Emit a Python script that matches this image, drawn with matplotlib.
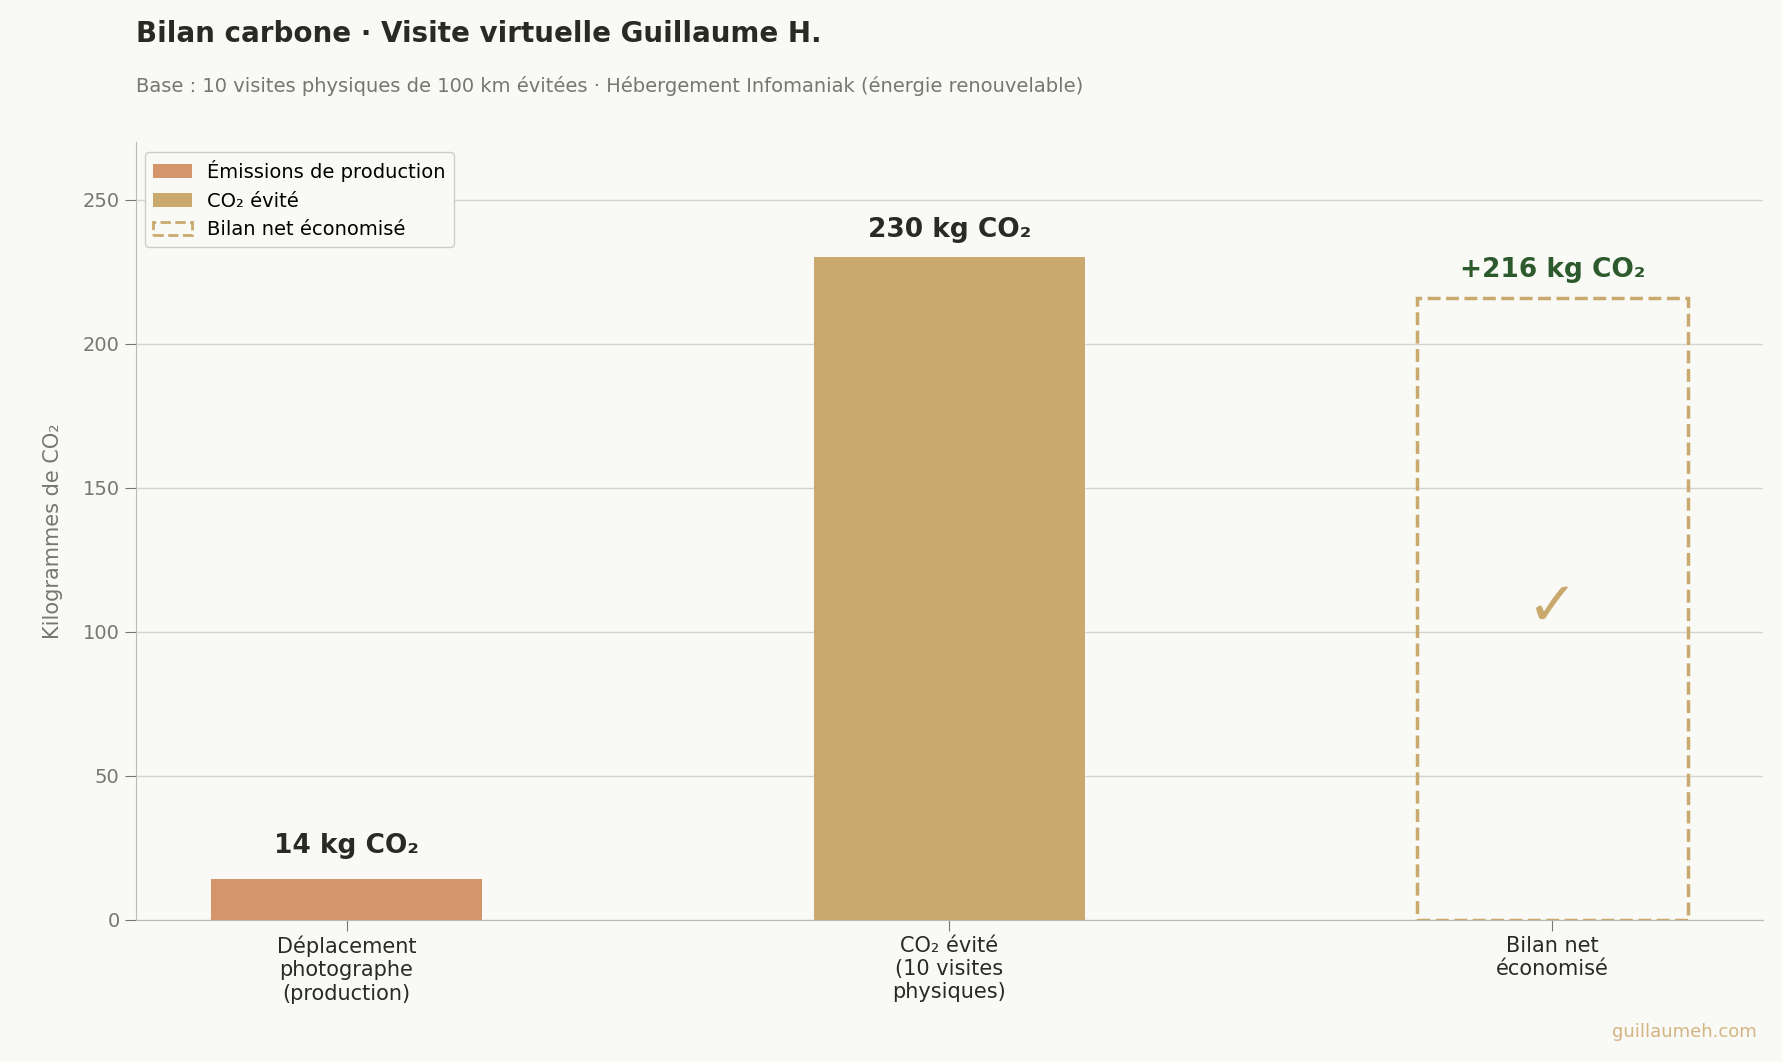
import matplotlib
matplotlib.use("Agg")
import matplotlib.pyplot as plt
from matplotlib.patches import Patch

categories = ["Déplacement\nphotographe\n(production)", "CO₂ évité\n(10 visites\nphysiques)", "Bilan net\néconomisé"]
emissions = 14
avoided = 230
net = 216
bar_labels = ["14 kg CO₂", "230 kg CO₂", "+216 kg CO₂"]

bg = "#f9f9f5"
c_prod = "#d4956b"
c_avoid = "#c9a96e"
c_green = "#2d5a2d"

fig = plt.figure(figsize=(17.83, 10.62), dpi=100, facecolor=bg)
ax = fig.add_axes([0.076, 0.134, 0.913, 0.732], facecolor=bg)

x = [0, 1, 2]
w = 0.45
ax.bar(x[0], emissions, width=w, color=c_prod, zorder=3)
ax.bar(x[1], avoided, width=w, color=c_avoid, zorder=3)
ax.bar(x[2], net, width=w, facecolor="none", edgecolor=c_avoid, linestyle="--", linewidth=2.5, zorder=3)

ax.text(x[0], emissions + 7, bar_labels[0], ha="center", va="bottom", fontsize=19, fontweight="bold", color="#2a2a25")
ax.text(x[1], avoided + 5, bar_labels[1], ha="center", va="bottom", fontsize=19, fontweight="bold", color="#2a2a25")
ax.text(x[2], net + 5, bar_labels[2], ha="center", va="bottom", fontsize=19, fontweight="bold", color=c_green)
ax.text(x[2], net / 2, "✓", ha="center", va="center", fontsize=44, color=c_avoid)

ax.set_xlim(-0.35, 2.35)
ax.set_ylim(0, 270)
ax.set_xticks(x)
ax.set_xticklabels(categories, fontsize=15, color="#2a2a25")
ax.set_yticks([0, 50, 100, 150, 200, 250])
ax.tick_params(axis="y", labelsize=14, colors="#777770", length=8)
ax.tick_params(axis="x", length=8, colors="#777770")
for t in ax.get_xticklabels():
    t.set_color("#2a2a25")
ax.grid(axis="y", color="#d5d5d0", linewidth=1, zorder=0)
for s in ["top", "right"]:
    ax.spines[s].set_visible(False)
for s in ["left", "bottom"]:
    ax.spines[s].set_color("#bbbbb5")
ax.set_ylabel("Kilogrammes de CO₂", fontsize=15, color="#777770", labelpad=14)

handles = [Patch(facecolor=c_prod, label="Émissions de production"),
           Patch(facecolor=c_avoid, label="CO₂ évité"),
           Patch(facecolor="none", edgecolor=c_avoid, linestyle="--", linewidth=2, label="Bilan net économisé")]
leg = ax.legend(handles=handles, loc="upper left", fontsize=14, facecolor=bg, edgecolor="#cccccc", framealpha=1)

fig.text(0.076, 0.955, "Bilan carbone · Visite virtuelle Guillaume H.", fontsize=20, fontweight="bold", color="#2a2a25", va="bottom")
fig.text(0.076, 0.91, "Base : 10 visites physiques de 100 km évitées · Hébergement Infomaniak (énergie renouvelable)",
         fontsize=14, color="#777770", va="bottom")
fig.text(0.985, 0.02, "guillaumeh.com", fontsize=13, color="#d4b483", ha="right", va="bottom")

fig.savefig("out.png", dpi=100, facecolor=bg)
